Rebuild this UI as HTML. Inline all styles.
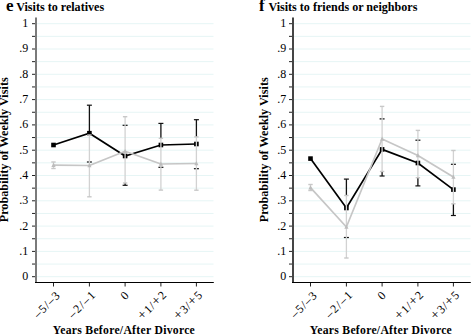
<!DOCTYPE html>
<html><head><meta charset="utf-8"><style>
html,body{margin:0;padding:0;background:#fff;width:471px;height:336px;overflow:hidden}
svg{display:block}
text{font-family:"Liberation Serif",serif;fill:#000}
</style></head><body>
<svg width="471" height="336" viewBox="0 0 471 336">

<g transform="translate(0,0)">
<line x1="37" x2="213.5" y1="276.70" y2="276.70" stroke="#e6f5f5" stroke-width="1"/>
<line x1="37" x2="213.5" y1="264.05" y2="264.05" stroke="#e6f5f5" stroke-width="1"/>
<line x1="37" x2="213.5" y1="251.40" y2="251.40" stroke="#e6f5f5" stroke-width="1"/>
<line x1="37" x2="213.5" y1="238.75" y2="238.75" stroke="#e6f5f5" stroke-width="1"/>
<line x1="37" x2="213.5" y1="226.10" y2="226.10" stroke="#e6f5f5" stroke-width="1"/>
<line x1="37" x2="213.5" y1="213.45" y2="213.45" stroke="#e6f5f5" stroke-width="1"/>
<line x1="37" x2="213.5" y1="200.80" y2="200.80" stroke="#e6f5f5" stroke-width="1"/>
<line x1="37" x2="213.5" y1="188.15" y2="188.15" stroke="#e6f5f5" stroke-width="1"/>
<line x1="37" x2="213.5" y1="175.50" y2="175.50" stroke="#e6f5f5" stroke-width="1"/>
<line x1="37" x2="213.5" y1="162.85" y2="162.85" stroke="#e6f5f5" stroke-width="1"/>
<line x1="37" x2="213.5" y1="150.20" y2="150.20" stroke="#e6f5f5" stroke-width="1"/>
<line x1="37" x2="213.5" y1="137.55" y2="137.55" stroke="#e6f5f5" stroke-width="1"/>
<line x1="37" x2="213.5" y1="124.90" y2="124.90" stroke="#e6f5f5" stroke-width="1"/>
<line x1="37" x2="213.5" y1="112.25" y2="112.25" stroke="#e6f5f5" stroke-width="1"/>
<line x1="37" x2="213.5" y1="99.60" y2="99.60" stroke="#e6f5f5" stroke-width="1"/>
<line x1="37" x2="213.5" y1="86.95" y2="86.95" stroke="#e6f5f5" stroke-width="1"/>
<line x1="37" x2="213.5" y1="74.30" y2="74.30" stroke="#e6f5f5" stroke-width="1"/>
<line x1="37" x2="213.5" y1="61.65" y2="61.65" stroke="#e6f5f5" stroke-width="1"/>
<line x1="37" x2="213.5" y1="49.00" y2="49.00" stroke="#e6f5f5" stroke-width="1"/>
<line x1="37" x2="213.5" y1="36.35" y2="36.35" stroke="#e6f5f5" stroke-width="1"/>
<line x1="37" x2="213.5" y1="23.70" y2="23.70" stroke="#e6f5f5" stroke-width="1"/>
<rect x="35" y="17.5" width="2" height="265.5" fill="#7a7a7a"/>
<line x1="32" x2="35" y1="276.70" y2="276.70" stroke="#222" stroke-width="1"/>
<line x1="32" x2="35" y1="264.05" y2="264.05" stroke="#222" stroke-width="1"/>
<line x1="32" x2="35" y1="251.40" y2="251.40" stroke="#222" stroke-width="1"/>
<line x1="32" x2="35" y1="238.75" y2="238.75" stroke="#222" stroke-width="1"/>
<line x1="32" x2="35" y1="226.10" y2="226.10" stroke="#222" stroke-width="1"/>
<line x1="32" x2="35" y1="213.45" y2="213.45" stroke="#222" stroke-width="1"/>
<line x1="32" x2="35" y1="200.80" y2="200.80" stroke="#222" stroke-width="1"/>
<line x1="32" x2="35" y1="188.15" y2="188.15" stroke="#222" stroke-width="1"/>
<line x1="32" x2="35" y1="175.50" y2="175.50" stroke="#222" stroke-width="1"/>
<line x1="32" x2="35" y1="162.85" y2="162.85" stroke="#222" stroke-width="1"/>
<line x1="32" x2="35" y1="150.20" y2="150.20" stroke="#222" stroke-width="1"/>
<line x1="32" x2="35" y1="137.55" y2="137.55" stroke="#222" stroke-width="1"/>
<line x1="32" x2="35" y1="124.90" y2="124.90" stroke="#222" stroke-width="1"/>
<line x1="32" x2="35" y1="112.25" y2="112.25" stroke="#222" stroke-width="1"/>
<line x1="32" x2="35" y1="99.60" y2="99.60" stroke="#222" stroke-width="1"/>
<line x1="32" x2="35" y1="86.95" y2="86.95" stroke="#222" stroke-width="1"/>
<line x1="32" x2="35" y1="74.30" y2="74.30" stroke="#222" stroke-width="1"/>
<line x1="32" x2="35" y1="61.65" y2="61.65" stroke="#222" stroke-width="1"/>
<line x1="32" x2="35" y1="49.00" y2="49.00" stroke="#222" stroke-width="1"/>
<line x1="32" x2="35" y1="36.35" y2="36.35" stroke="#222" stroke-width="1"/>
<line x1="32" x2="35" y1="23.70" y2="23.70" stroke="#222" stroke-width="1"/>
<text x="28.3" y="280.10" font-size="12" text-anchor="end">0</text>
<text x="28.3" y="254.80" font-size="12" text-anchor="end">.1</text>
<text x="28.3" y="229.50" font-size="12" text-anchor="end">.2</text>
<text x="28.3" y="204.20" font-size="12" text-anchor="end">.3</text>
<text x="28.3" y="178.90" font-size="12" text-anchor="end">.4</text>
<text x="28.3" y="153.60" font-size="12" text-anchor="end">.5</text>
<text x="28.3" y="128.30" font-size="12" text-anchor="end">.6</text>
<text x="28.3" y="103.00" font-size="12" text-anchor="end">.7</text>
<text x="28.3" y="77.70" font-size="12" text-anchor="end">.8</text>
<text x="28.3" y="52.40" font-size="12" text-anchor="end">.9</text>
<text x="28.3" y="27.10" font-size="12" text-anchor="end">1</text>
<rect x="35" y="282" width="178.8" height="1" fill="#000"/>
<line x1="53.5" x2="53.5" y1="283" y2="286.5" stroke="#222" stroke-width="1"/>
<text transform="translate(60.5,296.5) rotate(-45)" font-size="12" textLength="31.5" lengthAdjust="spacing" text-anchor="end">–5/–3</text>
<line x1="89.4" x2="89.4" y1="283" y2="286.5" stroke="#222" stroke-width="1"/>
<text transform="translate(95.9,296) rotate(-45)" font-size="12" textLength="32.5" lengthAdjust="spacing" text-anchor="end">–2/–1</text>
<line x1="125.1" x2="125.1" y1="283" y2="286.5" stroke="#222" stroke-width="1"/>
<text transform="translate(129.6,296.3) rotate(-45)" font-size="12" text-anchor="end">0</text>
<line x1="160.9" x2="160.9" y1="283" y2="286.5" stroke="#222" stroke-width="1"/>
<text transform="translate(166.9,296) rotate(-45)" font-size="12" textLength="34.5" lengthAdjust="spacing" text-anchor="end"><tspan font-size="14">+</tspan>1/<tspan font-size="14">+</tspan>2</text>
<line x1="196.4" x2="196.4" y1="283" y2="286.5" stroke="#222" stroke-width="1"/>
<text transform="translate(202.9,296) rotate(-45)" font-size="12" textLength="34.5" lengthAdjust="spacing" text-anchor="end"><tspan font-size="14">+</tspan>3/<tspan font-size="14">+</tspan>5</text>
<text x="123.8" y="334.4" font-size="11.7" textLength="142" lengthAdjust="spacing" font-weight="bold" text-anchor="middle">Years Before/After Divorce</text>
<text transform="translate(7.8,149.8) rotate(-90)" font-size="12" textLength="145" lengthAdjust="spacingAndGlyphs" font-weight="bold" text-anchor="middle">Probability of Weekly Visits</text>
<text x="6" y="10.7" font-size="17" font-weight="bold">e</text>
<text x="16.2" y="10.6" font-size="12" textLength="88" lengthAdjust="spacingAndGlyphs" font-weight="bold">Visits to relatives</text>
<line x1="89.4" x2="89.4" y1="105.2" y2="135.0" stroke="#111" stroke-width="1.3"/>
<line x1="86.9" x2="91.9" y1="105.2" y2="105.2" stroke="#111" stroke-width="1.2"/>
<line x1="86.9" x2="91.9" y1="162.0" y2="162.0" stroke="#111" stroke-width="1.2"/>
<line x1="125.1" x2="125.1" y1="183.0" y2="185.3" stroke="#111" stroke-width="1.3"/>
<line x1="122.6" x2="127.6" y1="125.3" y2="125.3" stroke="#111" stroke-width="1.2"/>
<line x1="122.6" x2="127.6" y1="185.3" y2="185.3" stroke="#111" stroke-width="1.2"/>
<line x1="160.9" x2="160.9" y1="123.4" y2="138.3" stroke="#111" stroke-width="1.3"/>
<line x1="158.4" x2="163.4" y1="123.4" y2="123.4" stroke="#111" stroke-width="1.2"/>
<line x1="158.4" x2="163.4" y1="167.3" y2="167.3" stroke="#111" stroke-width="1.2"/>
<line x1="196.4" x2="196.4" y1="119.7" y2="136.9" stroke="#111" stroke-width="1.3"/>
<line x1="193.9" x2="198.9" y1="119.7" y2="119.7" stroke="#111" stroke-width="1.2"/>
<line x1="193.9" x2="198.9" y1="168.7" y2="168.7" stroke="#111" stroke-width="1.2"/>
<polyline points="53.5,145.0 89.4,133.2 125.1,156.0 160.9,145.0 196.4,144.0" fill="none" stroke="#000" stroke-width="1.7"/>
<rect x="51.2" y="142.7" width="4.6" height="4.6" fill="#000"/>
<rect x="87.10000000000001" y="130.89999999999998" width="4.6" height="4.6" fill="#000"/>
<rect x="122.8" y="153.7" width="4.6" height="4.6" fill="#000"/>
<rect x="158.6" y="142.7" width="4.6" height="4.6" fill="#000"/>
<rect x="194.1" y="141.7" width="4.6" height="4.6" fill="#000"/>
<line x1="53.5" x2="53.5" y1="162.0" y2="168.5" stroke="#d2d2d2" stroke-width="1.3"/>
<line x1="51.3" x2="55.7" y1="162.0" y2="162.0" stroke="#c8c8c8" stroke-width="1.4"/>
<line x1="51.3" x2="55.7" y1="168.5" y2="168.5" stroke="#c8c8c8" stroke-width="1.4"/>
<line x1="89.4" x2="89.4" y1="135.0" y2="196.8" stroke="#d2d2d2" stroke-width="1.3"/>
<line x1="87.2" x2="91.60000000000001" y1="135.0" y2="135.0" stroke="#c8c8c8" stroke-width="1.4"/>
<line x1="87.2" x2="91.60000000000001" y1="196.8" y2="196.8" stroke="#c8c8c8" stroke-width="1.4"/>
<line x1="125.1" x2="125.1" y1="116.7" y2="183.0" stroke="#d2d2d2" stroke-width="1.3"/>
<line x1="122.89999999999999" x2="127.3" y1="116.7" y2="116.7" stroke="#c8c8c8" stroke-width="1.4"/>
<line x1="122.89999999999999" x2="127.3" y1="183.0" y2="183.0" stroke="#c8c8c8" stroke-width="1.4"/>
<line x1="160.9" x2="160.9" y1="138.3" y2="190.1" stroke="#d2d2d2" stroke-width="1.3"/>
<line x1="158.70000000000002" x2="163.1" y1="138.3" y2="138.3" stroke="#c8c8c8" stroke-width="1.4"/>
<line x1="158.70000000000002" x2="163.1" y1="190.1" y2="190.1" stroke="#c8c8c8" stroke-width="1.4"/>
<line x1="196.4" x2="196.4" y1="136.9" y2="190.2" stroke="#d2d2d2" stroke-width="1.3"/>
<line x1="194.20000000000002" x2="198.6" y1="136.9" y2="136.9" stroke="#c8c8c8" stroke-width="1.4"/>
<line x1="194.20000000000002" x2="198.6" y1="190.2" y2="190.2" stroke="#c8c8c8" stroke-width="1.4"/>
<polyline points="53.5,165.2 89.4,165.5 125.1,151.3 160.9,164.0 196.4,163.5" fill="none" stroke="#c6c6c6" stroke-width="1.7" stroke-linejoin="round"/>
<polygon points="53.5,162.79999999999998 51.4,167.0 55.6,167.0" fill="#bcbcbc"/>
<polygon points="89.4,163.1 87.30000000000001,167.3 91.5,167.3" fill="#bcbcbc"/>
<polygon points="125.1,148.9 123.0,153.10000000000002 127.19999999999999,153.10000000000002" fill="#bcbcbc"/>
<polygon points="160.9,161.6 158.8,165.8 163.0,165.8" fill="#bcbcbc"/>
<polygon points="196.4,161.1 194.3,165.3 198.5,165.3" fill="#bcbcbc"/>
</g>
<g transform="translate(257,0)">
<line x1="37" x2="213.5" y1="276.70" y2="276.70" stroke="#e6f5f5" stroke-width="1"/>
<line x1="37" x2="213.5" y1="264.05" y2="264.05" stroke="#e6f5f5" stroke-width="1"/>
<line x1="37" x2="213.5" y1="251.40" y2="251.40" stroke="#e6f5f5" stroke-width="1"/>
<line x1="37" x2="213.5" y1="238.75" y2="238.75" stroke="#e6f5f5" stroke-width="1"/>
<line x1="37" x2="213.5" y1="226.10" y2="226.10" stroke="#e6f5f5" stroke-width="1"/>
<line x1="37" x2="213.5" y1="213.45" y2="213.45" stroke="#e6f5f5" stroke-width="1"/>
<line x1="37" x2="213.5" y1="200.80" y2="200.80" stroke="#e6f5f5" stroke-width="1"/>
<line x1="37" x2="213.5" y1="188.15" y2="188.15" stroke="#e6f5f5" stroke-width="1"/>
<line x1="37" x2="213.5" y1="175.50" y2="175.50" stroke="#e6f5f5" stroke-width="1"/>
<line x1="37" x2="213.5" y1="162.85" y2="162.85" stroke="#e6f5f5" stroke-width="1"/>
<line x1="37" x2="213.5" y1="150.20" y2="150.20" stroke="#e6f5f5" stroke-width="1"/>
<line x1="37" x2="213.5" y1="137.55" y2="137.55" stroke="#e6f5f5" stroke-width="1"/>
<line x1="37" x2="213.5" y1="124.90" y2="124.90" stroke="#e6f5f5" stroke-width="1"/>
<line x1="37" x2="213.5" y1="112.25" y2="112.25" stroke="#e6f5f5" stroke-width="1"/>
<line x1="37" x2="213.5" y1="99.60" y2="99.60" stroke="#e6f5f5" stroke-width="1"/>
<line x1="37" x2="213.5" y1="86.95" y2="86.95" stroke="#e6f5f5" stroke-width="1"/>
<line x1="37" x2="213.5" y1="74.30" y2="74.30" stroke="#e6f5f5" stroke-width="1"/>
<line x1="37" x2="213.5" y1="61.65" y2="61.65" stroke="#e6f5f5" stroke-width="1"/>
<line x1="37" x2="213.5" y1="49.00" y2="49.00" stroke="#e6f5f5" stroke-width="1"/>
<line x1="37" x2="213.5" y1="36.35" y2="36.35" stroke="#e6f5f5" stroke-width="1"/>
<line x1="37" x2="213.5" y1="23.70" y2="23.70" stroke="#e6f5f5" stroke-width="1"/>
<rect x="35" y="17.5" width="2" height="265.5" fill="#454545"/>
<line x1="32" x2="35" y1="276.70" y2="276.70" stroke="#222" stroke-width="1"/>
<line x1="32" x2="35" y1="264.05" y2="264.05" stroke="#222" stroke-width="1"/>
<line x1="32" x2="35" y1="251.40" y2="251.40" stroke="#222" stroke-width="1"/>
<line x1="32" x2="35" y1="238.75" y2="238.75" stroke="#222" stroke-width="1"/>
<line x1="32" x2="35" y1="226.10" y2="226.10" stroke="#222" stroke-width="1"/>
<line x1="32" x2="35" y1="213.45" y2="213.45" stroke="#222" stroke-width="1"/>
<line x1="32" x2="35" y1="200.80" y2="200.80" stroke="#222" stroke-width="1"/>
<line x1="32" x2="35" y1="188.15" y2="188.15" stroke="#222" stroke-width="1"/>
<line x1="32" x2="35" y1="175.50" y2="175.50" stroke="#222" stroke-width="1"/>
<line x1="32" x2="35" y1="162.85" y2="162.85" stroke="#222" stroke-width="1"/>
<line x1="32" x2="35" y1="150.20" y2="150.20" stroke="#222" stroke-width="1"/>
<line x1="32" x2="35" y1="137.55" y2="137.55" stroke="#222" stroke-width="1"/>
<line x1="32" x2="35" y1="124.90" y2="124.90" stroke="#222" stroke-width="1"/>
<line x1="32" x2="35" y1="112.25" y2="112.25" stroke="#222" stroke-width="1"/>
<line x1="32" x2="35" y1="99.60" y2="99.60" stroke="#222" stroke-width="1"/>
<line x1="32" x2="35" y1="86.95" y2="86.95" stroke="#222" stroke-width="1"/>
<line x1="32" x2="35" y1="74.30" y2="74.30" stroke="#222" stroke-width="1"/>
<line x1="32" x2="35" y1="61.65" y2="61.65" stroke="#222" stroke-width="1"/>
<line x1="32" x2="35" y1="49.00" y2="49.00" stroke="#222" stroke-width="1"/>
<line x1="32" x2="35" y1="36.35" y2="36.35" stroke="#222" stroke-width="1"/>
<line x1="32" x2="35" y1="23.70" y2="23.70" stroke="#222" stroke-width="1"/>
<text x="29.3" y="280.10" font-size="12" text-anchor="end">0</text>
<text x="29.3" y="254.80" font-size="12" text-anchor="end">.1</text>
<text x="29.3" y="229.50" font-size="12" text-anchor="end">.2</text>
<text x="29.3" y="204.20" font-size="12" text-anchor="end">.3</text>
<text x="29.3" y="178.90" font-size="12" text-anchor="end">.4</text>
<text x="29.3" y="153.60" font-size="12" text-anchor="end">.5</text>
<text x="29.3" y="128.30" font-size="12" text-anchor="end">.6</text>
<text x="29.3" y="103.00" font-size="12" text-anchor="end">.7</text>
<text x="29.3" y="77.70" font-size="12" text-anchor="end">.8</text>
<text x="29.3" y="52.40" font-size="12" text-anchor="end">.9</text>
<text x="29.3" y="27.10" font-size="12" text-anchor="end">1</text>
<rect x="35" y="282" width="178.8" height="1" fill="#000"/>
<line x1="53.5" x2="53.5" y1="283" y2="286.5" stroke="#222" stroke-width="1"/>
<text transform="translate(60.5,296.5) rotate(-45)" font-size="12" textLength="31.5" lengthAdjust="spacing" text-anchor="end">–5/–3</text>
<line x1="89.4" x2="89.4" y1="283" y2="286.5" stroke="#222" stroke-width="1"/>
<text transform="translate(95.9,296) rotate(-45)" font-size="12" textLength="32.5" lengthAdjust="spacing" text-anchor="end">–2/–1</text>
<line x1="125.1" x2="125.1" y1="283" y2="286.5" stroke="#222" stroke-width="1"/>
<text transform="translate(129.6,296.3) rotate(-45)" font-size="12" text-anchor="end">0</text>
<line x1="160.9" x2="160.9" y1="283" y2="286.5" stroke="#222" stroke-width="1"/>
<text transform="translate(166.9,296) rotate(-45)" font-size="12" textLength="34.5" lengthAdjust="spacing" text-anchor="end"><tspan font-size="14">+</tspan>1/<tspan font-size="14">+</tspan>2</text>
<line x1="196.4" x2="196.4" y1="283" y2="286.5" stroke="#222" stroke-width="1"/>
<text transform="translate(202.9,296) rotate(-45)" font-size="12" textLength="34.5" lengthAdjust="spacing" text-anchor="end"><tspan font-size="14">+</tspan>3/<tspan font-size="14">+</tspan>5</text>
<text x="123.8" y="334.4" font-size="11.7" textLength="142" lengthAdjust="spacing" font-weight="bold" text-anchor="middle">Years Before/After Divorce</text>
<text transform="translate(10.600000000000023,149.8) rotate(-90)" font-size="12" textLength="145" lengthAdjust="spacingAndGlyphs" font-weight="bold" text-anchor="middle">Probability of Weekly Visits</text>
<text x="2" y="10.7" font-size="17" font-weight="bold">f</text>
<text x="11.4" y="10.6" font-size="12" textLength="149" lengthAdjust="spacingAndGlyphs" font-weight="bold">Visits to friends or neighbors</text>
<line x1="89.4" x2="89.4" y1="179.1" y2="195.5" stroke="#111" stroke-width="1.3"/>
<line x1="86.9" x2="91.9" y1="179.1" y2="179.1" stroke="#111" stroke-width="1.2"/>
<line x1="86.9" x2="91.9" y1="237.5" y2="237.5" stroke="#111" stroke-width="1.2"/>
<line x1="125.1" x2="125.1" y1="171.5" y2="176.0" stroke="#111" stroke-width="1.3"/>
<line x1="122.6" x2="127.6" y1="118.9" y2="118.9" stroke="#111" stroke-width="1.2"/>
<line x1="122.6" x2="127.6" y1="176.0" y2="176.0" stroke="#111" stroke-width="1.2"/>
<line x1="160.9" x2="160.9" y1="177.7" y2="185.9" stroke="#111" stroke-width="1.3"/>
<line x1="158.4" x2="163.4" y1="140.2" y2="140.2" stroke="#111" stroke-width="1.2"/>
<line x1="158.4" x2="163.4" y1="185.9" y2="185.9" stroke="#111" stroke-width="1.2"/>
<line x1="196.4" x2="196.4" y1="203.8" y2="215.5" stroke="#111" stroke-width="1.3"/>
<line x1="193.9" x2="198.9" y1="164.3" y2="164.3" stroke="#111" stroke-width="1.2"/>
<line x1="193.9" x2="198.9" y1="215.5" y2="215.5" stroke="#111" stroke-width="1.2"/>
<polyline points="53.5,158.6 89.4,208.0 125.1,149.4 160.9,163.0 196.4,189.6" fill="none" stroke="#000" stroke-width="1.7"/>
<rect x="51.2" y="156.29999999999998" width="4.6" height="4.6" fill="#000"/>
<rect x="87.10000000000001" y="205.7" width="4.6" height="4.6" fill="#000"/>
<rect x="122.8" y="147.1" width="4.6" height="4.6" fill="#000"/>
<rect x="158.6" y="160.7" width="4.6" height="4.6" fill="#000"/>
<rect x="194.1" y="187.29999999999998" width="4.6" height="4.6" fill="#000"/>
<line x1="53.5" x2="53.5" y1="184.5" y2="190.5" stroke="#d2d2d2" stroke-width="1.3"/>
<line x1="51.3" x2="55.7" y1="184.5" y2="184.5" stroke="#c8c8c8" stroke-width="1.4"/>
<line x1="51.3" x2="55.7" y1="190.5" y2="190.5" stroke="#c8c8c8" stroke-width="1.4"/>
<line x1="89.4" x2="89.4" y1="195.5" y2="258.0" stroke="#d2d2d2" stroke-width="1.3"/>
<line x1="87.2" x2="91.60000000000001" y1="195.5" y2="195.5" stroke="#c8c8c8" stroke-width="1.4"/>
<line x1="87.2" x2="91.60000000000001" y1="258.0" y2="258.0" stroke="#c8c8c8" stroke-width="1.4"/>
<line x1="125.1" x2="125.1" y1="106.4" y2="171.5" stroke="#d2d2d2" stroke-width="1.3"/>
<line x1="122.89999999999999" x2="127.3" y1="106.4" y2="106.4" stroke="#c8c8c8" stroke-width="1.4"/>
<line x1="122.89999999999999" x2="127.3" y1="171.5" y2="171.5" stroke="#c8c8c8" stroke-width="1.4"/>
<line x1="160.9" x2="160.9" y1="130.4" y2="177.7" stroke="#d2d2d2" stroke-width="1.3"/>
<line x1="158.70000000000002" x2="163.1" y1="130.4" y2="130.4" stroke="#c8c8c8" stroke-width="1.4"/>
<line x1="158.70000000000002" x2="163.1" y1="177.7" y2="177.7" stroke="#c8c8c8" stroke-width="1.4"/>
<line x1="196.4" x2="196.4" y1="150.5" y2="203.8" stroke="#d2d2d2" stroke-width="1.3"/>
<line x1="194.20000000000002" x2="198.6" y1="150.5" y2="150.5" stroke="#c8c8c8" stroke-width="1.4"/>
<line x1="194.20000000000002" x2="198.6" y1="203.8" y2="203.8" stroke="#c8c8c8" stroke-width="1.4"/>
<polyline points="53.5,187.6 89.4,227.0 125.1,139.0 160.9,155.5 196.4,177.0" fill="none" stroke="#c6c6c6" stroke-width="1.7" stroke-linejoin="round"/>
<polygon points="53.5,185.2 51.4,189.4 55.6,189.4" fill="#bcbcbc"/>
<polygon points="89.4,224.6 87.30000000000001,228.8 91.5,228.8" fill="#bcbcbc"/>
<polygon points="125.1,136.6 123.0,140.8 127.19999999999999,140.8" fill="#bcbcbc"/>
<polygon points="160.9,153.1 158.8,157.3 163.0,157.3" fill="#bcbcbc"/>
<polygon points="196.4,174.6 194.3,178.8 198.5,178.8" fill="#bcbcbc"/>
</g>
</svg>
</body></html>
